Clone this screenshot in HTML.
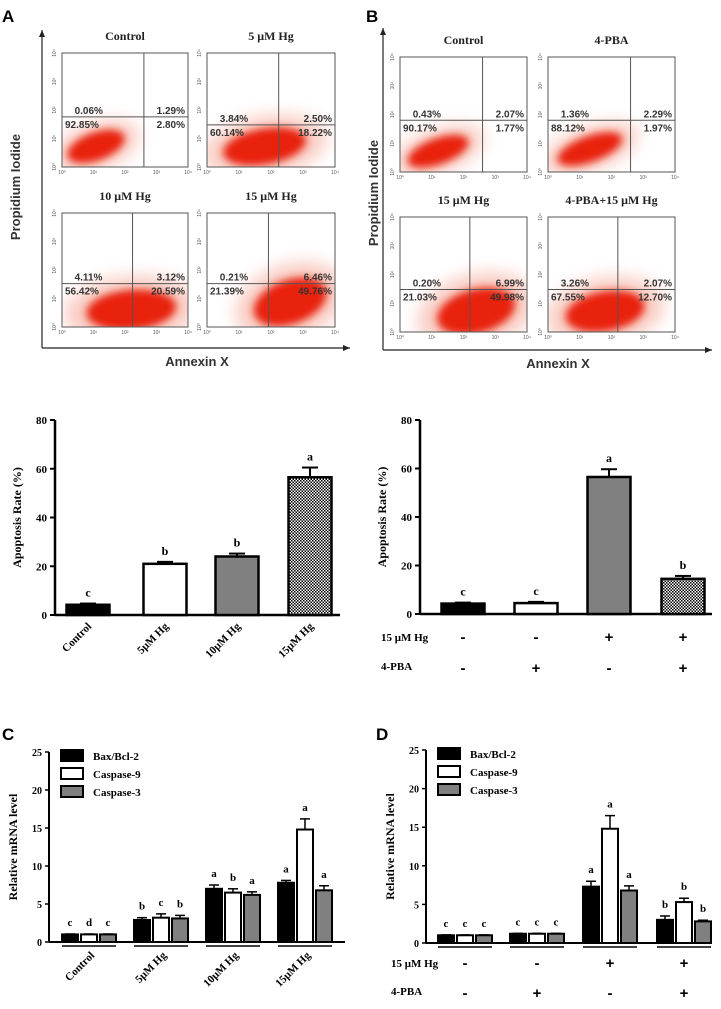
<!DOCTYPE html>
<html><head><meta charset="utf-8"><style>
body{margin:0;background:#fff}
svg{display:block}
.ser{font-family:"Liberation Serif",serif;font-weight:bold}
.san{font-family:"Liberation Sans",sans-serif}
</style></head><body>
<svg id="fig" width="721" height="1009" viewBox="0 0 721 1009" xmlns="http://www.w3.org/2000/svg">
<defs id="defs">
<pattern id="chk" width="3" height="3" patternUnits="userSpaceOnUse"><rect width="3" height="3" fill="#fff"/><rect width="1.5" height="1.5" fill="#000"/><rect x="1.5" y="1.5" width="1.5" height="1.5" fill="#000"/></pattern>
<filter id="blur" x="-50%" y="-50%" width="200%" height="200%"><feGaussianBlur stdDeviation="4"/></filter>
<filter id="blur2" x="-50%" y="-50%" width="200%" height="200%"><feGaussianBlur stdDeviation="8"/></filter>
</defs>
<g id="root"></g>
</svg>
<script>
// ---- Data ----
const flowTitlesA = ["Control","5 μM Hg","10 μM Hg","15 μM Hg"];
const flowPctA = [["0.06%","1.29%","92.85%","2.80%"],["3.84%","2.50%","60.14%","18.22%"],["4.11%","3.12%","56.42%","20.59%"],["0.21%","6.46%","21.39%","49.76%"]];
const flowTitlesB = ["Control","4-PBA","15 μM Hg","4-PBA+15 μM Hg"];
const flowPctB = [["0.43%","2.07%","90.17%","1.77%"],["1.36%","2.29%","88.12%","1.97%"],["0.20%","6.99%","21.03%","49.98%"],["3.26%","2.07%","67.55%","12.70%"]];
const rateCatsA = ["Control","5μM Hg","10μM Hg","15μM Hg"];
const rateValsA = [4.2, 21, 24, 56.5];
const rateErrA = [0.5, 0.8, 1.2, 4];
const rateLetA = ["c","b","b","a"];
const rateValsB = [4.3, 4.5, 56.5, 14.5];
const rateErrB = [0.4, 0.5, 3.2, 1.2];
const rateLetB = ["c","c","a","b"];
const hgRow = ["-","-","+","+"];
const pbaRow = ["-","+","-","+"];
const yTicksRate = [0,20,40,60,80];
const yTicksMrna = [0,5,10,15,20,25];
const seriesNames = ["Bax/Bcl-2","Caspase-9","Caspase-3"];
const mrnaCatsC = ["Control","5μM Hg","10μM Hg","15μM Hg"];
const baxC = [1, 2.9, 7.0, 7.8];
const cas9C = [1, 3.2, 6.5, 14.8];
const cas3C = [1, 3.1, 6.2, 6.8];
const baxCErr = [0.05, 0.3, 0.5, 0.3];
const cas9CErr = [0.05, 0.5, 0.5, 1.4];
const cas3CErr = [0.05, 0.4, 0.4, 0.6];
const letC = [["c","d","c"],["b","c","b"],["a","b","a"],["a","a","a"]];
const baxD = [1, 1.2, 7.3, 3.0];
const cas9D = [1, 1.2, 14.8, 5.3];
const cas3D = [1, 1.2, 6.8, 2.8];
const baxDErr = [0.05, 0.05, 0.7, 0.5];
const cas9DErr = [0.05, 0.05, 1.7, 0.5];
const cas3DErr = [0.05, 0.05, 0.6, 0.15];
const letD = [["c","c","c"],["c","c","c"],["a","a","a"],["b","b","b"]];

const NS="http://www.w3.org/2000/svg";
const root=document.getElementById('root');
const defs=document.getElementById('defs');
let clipN=0;
function mk(tag,attrs,parent,txt){const e=document.createElementNS(NS,tag);for(const k in attrs)e.setAttribute(k,attrs[k]);if(txt!==undefined)e.textContent=txt;(parent||root).appendChild(e);return e;}

// ---- Flow panels ----
function flowPanel(titles, pcts, boxes, axisX, axisTop, axisBot, axisRight, ylabX, ylabY, xlabX){
  const g=mk('g',{});
  
  
  mk('line',{x1:axisX,y1:axisTop,x2:axisX,y2:axisBot,stroke:'#222','stroke-width':1.2},g);
  mk('path',{d:`M${axisX-3},${axisTop+7} L${axisX},${axisTop} L${axisX+3},${axisTop+7}Z`,fill:'#222'},g);
  mk('line',{x1:axisX,y1:axisBot,x2:axisRight,y2:axisBot,stroke:'#222','stroke-width':1.2},g);
  mk('path',{d:`M${axisRight-7},${axisBot-3} L${axisRight},${axisBot} L${axisRight-7},${axisBot+3}Z`,fill:'#222'},g);
  let t=mk('text',{x:ylabX,y:ylabY,'text-anchor':'middle',transform:`rotate(-90 ${ylabX} ${ylabY})`,class:'san','font-size':13,'font-weight':'bold',fill:'#333'},g,'Propidium Iodide');
  
  
  t=mk('text',{x:xlabX,y:axisBot+18,'text-anchor':'middle',class:'san','font-size':13,'font-weight':'bold',fill:'#333'},g,'Annexin X');
  
  
  boxes.forEach((b,i)=>{
    const [x,y,w,h,vf,hf,bx,by,rx,ry,rot]=b;
    const pg=mk('g',{},g);
    
    
    const tt=mk('text',{x:x+w/2,y:y-13,'text-anchor':'middle',class:'ser','font-size':12,fill:'#222'},pg,titles[i]);
    
    
    const cid='clip'+(clipN++);
    const cp=mk('clipPath',{id:cid},defs);
    mk('rect',{x,y,width:w,height:h},cp);
    const dg=mk('g',{'clip-path':`url(#${cid})`},pg);
    const cx=x+bx*w, cy=y+by*h;
    mk('ellipse',{cx,cy,rx:rx*1.5,ry:ry*1.7,fill:'#f3907c',opacity:0.45,filter:'url(#blur2)',transform:`rotate(${rot} ${cx} ${cy})`},dg);
    mk('ellipse',{cx,cy,rx,ry,fill:'#e8200a',filter:'url(#blur)',transform:`rotate(${rot} ${cx} ${cy})`},dg);
    mk('rect',{x,y,width:w,height:h,fill:'none',stroke:'#555','stroke-width':1},pg);
    const vx=x+vf*w, hy=y+hf*h;
    mk('line',{x1:vx,y1:y,x2:vx,y2:y+h,stroke:'#555','stroke-width':1},pg);
    mk('line',{x1:x,y1:hy,x2:x+w,y2:hy,stroke:'#555','stroke-width':1},pg);
    const p=pcts[i];
    const ps=[[x+w*0.1,hy-3,'start',p[0]],[x+w-3,hy-3,'end',p[1]],[x+3,hy+11,'start',p[2]],[x+w-3,hy+11,'end',p[3]]];
    ps.forEach(q=>{const e=mk('text',{x:q[0],y:q[1],'text-anchor':q[2],class:'san','font-size':10,'font-weight':'bold',fill:'#333'},pg,q[3]);
      
      });
    for(let k=0;k<5;k++){
      mk('text',{x:x+k*w/4,y:y+h+7,'text-anchor':'middle',class:'san','font-size':5,fill:'#555'},pg,'10'+['⁰','¹','²','³','⁴'][k]);
      const yy=y+h-k*h/4;
      mk('text',{x:x-6,y:yy,'text-anchor':'middle',class:'san','font-size':5,fill:'#555',transform:`rotate(-90 ${x-6} ${yy})`},pg,'10'+['⁰','¹','²','³','⁴'][k]);
    }
  });
}
mk('text',{x:2,y:22,class:'san','font-size':17,'font-weight':'bold'},root,'A');
mk('text',{x:366,y:22,class:'san','font-size':17,'font-weight':'bold'},root,'B');
flowPanel(flowTitlesA,flowPctA,[
 [62,53,126,114,0.65,0.56,0.27,0.82,30,14,-20],
 [207,53,128,114,0.56,0.63,0.45,0.82,42,18,-10],
 [62,213,126,114,0.56,0.62,0.55,0.85,45,20,-5],
 [207,213,128,114,0.48,0.62,0.65,0.78,38,22,-20]
],42,30,348,350,20,187,197);
flowPanel(flowTitlesB,flowPctB,[
 [400,57,127,115,0.65,0.55,0.3,0.82,32,13,-20],
 [548,57,127,115,0.65,0.55,0.33,0.8,34,13,-20],
 [400,217,127,115,0.55,0.63,0.6,0.82,40,22,-15],
 [548,217,127,115,0.55,0.63,0.45,0.82,40,20,-10]
],383,28,350,712,378,193,558);

// ---- Apoptosis rate charts ----
function rateChart(axisX, right, zeroY, topY, cats, vals, errs, lets, centers, fills, xlabelsRotated){
  const g=mk('g',{});
  
  
  const ys=v=>zeroY-(v/80)*(zeroY-topY);
  mk('line',{x1:axisX,y1:ys(80),x2:axisX,y2:zeroY,stroke:'#000','stroke-width':2.5},g);
  mk('line',{x1:axisX,y1:zeroY,x2:right,y2:zeroY,stroke:'#000','stroke-width':2.5},g);
  yTicksRate.forEach(v=>{mk('line',{x1:axisX-5,y1:ys(v),x2:axisX,y2:ys(v),stroke:'#000','stroke-width':2},g);
    const e=mk('text',{x:axisX-8,y:ys(v)+4,'text-anchor':'end',class:'ser','font-size':11},g,v);
    
    });
  const tx=axisX-34, ty=(zeroY+topY)/2;
  const yt=mk('text',{x:tx,y:ty,'text-anchor':'middle',class:'ser','font-size':12,transform:`rotate(-90 ${tx} ${ty})`},g,'Apoptosis Rate (%)');
  
  
  vals.forEach((v,i)=>{
    const c=centers[i], w=43;
    const eb=ys(v+errs[i]);
    mk('line',{x1:c,y1:ys(v),x2:c,y2:eb,stroke:'#000','stroke-width':2},g);
    mk('line',{x1:c-8,y1:eb,x2:c+8,y2:eb,stroke:'#000','stroke-width':2},g);
    const r=mk('rect',{x:c-w/2,y:ys(v),width:w,height:zeroY-ys(v),fill:fills[i],stroke:'#000','stroke-width':2.5},g);
    
    
    const l=mk('text',{x:c,y:eb-7,'text-anchor':'middle',class:'ser','font-size':12},g,lets[i]);
    
    
    if(xlabelsRotated){
      const lx=c+4, ly=zeroY+12;
      const xl=mk('text',{x:lx,y:ly,'text-anchor':'end',class:'ser','font-size':11,transform:`rotate(-45 ${lx} ${ly})`},g,cats[i]);
      
      
    }
  });
  return g;
}
const fills=['#000','#fff','#808080','url(#chk)'];
rateChart(55,340,615,420,rateCatsA,rateValsA,rateErrA,rateLetA,[88,165,237,310],fills,true);
rateChart(420,712,614,420,null,rateValsB,rateErrB,rateLetB,[463,536,609,683],fills,false);
function signRows(labelX, centers, y1, y2){
  const a=mk('text',{x:labelX,y:y1,class:'ser','font-size':11},root,'15 μM Hg');
  
  
  const b=mk('text',{x:labelX,y:y2,class:'ser','font-size':11},root,'4-PBA');
  
  
  centers.forEach((c,i)=>{
    const s1=mk('text',{x:c,y:y1+1,'text-anchor':'middle',class:'san','font-size':15,'font-weight':'bold'},root,hgRow[i]);
    
    
    const s2=mk('text',{x:c,y:y2+3,'text-anchor':'middle',class:'san','font-size':15,'font-weight':'bold'},root,pbaRow[i]);
    
    
  });
}
signRows(381,[463,536,609,683],641,670);

// ---- mRNA charts ----
function mrnaChart(letter, lx, axisX, right, zeroY, topY, centers, series, errsArr, lets, cats){
  const g=mk('g',{});
  
  
  mk('text',{x:lx,y:740,class:'san','font-size':17,'font-weight':'bold'},g,letter);
  const ys=v=>zeroY-(v/25)*(zeroY-topY);
  mk('line',{x1:axisX,y1:topY,x2:axisX,y2:zeroY,stroke:'#000','stroke-width':2},g);
  mk('line',{x1:axisX,y1:zeroY,x2:right,y2:zeroY,stroke:'#000','stroke-width':2},g);
  yTicksMrna.forEach(v=>{mk('line',{x1:axisX-4,y1:ys(v),x2:axisX,y2:ys(v),stroke:'#000','stroke-width':1.5},g);
    const e=mk('text',{x:axisX-7,y:ys(v)+4,'text-anchor':'end',class:'ser','font-size':10},g,v);
    
    });
  const tx=axisX-32, ty=(zeroY+topY)/2;
  const yt=mk('text',{x:tx,y:ty,'text-anchor':'middle',class:'ser','font-size':12,transform:`rotate(-90 ${tx} ${ty})`},g,'Relative mRNA level');
  
  
  const sf=['#000','#fff','#808080'];
  seriesNames.forEach((n,k)=>{
    const ly=topY+k*18;
    const lr=mk('rect',{x:axisX+12,y:ly-2,width:22,height:11,fill:sf[k],stroke:'#000','stroke-width':2},g);
    
    
    const lt=mk('text',{x:axisX+44,y:ly+8,class:'ser','font-size':11},g,n);
    
    
  });
  centers.forEach((c,i)=>{
    mk('line',{x1:c-27,y1:zeroY+4,x2:c+27,y2:zeroY+4,stroke:'#000','stroke-width':1.5},g);
    series.forEach((s,k)=>{
      const bc=c+(k-1)*19, w=16, v=s[i], e=errsArr[k][i];
      const eb=ys(v+e);
      mk('line',{x1:bc,y1:ys(v),x2:bc,y2:eb,stroke:'#000','stroke-width':1.5},g);
      mk('line',{x1:bc-5,y1:eb,x2:bc+5,y2:eb,stroke:'#000','stroke-width':1.5},g);
      const r=mk('rect',{x:bc-w/2,y:ys(v),width:w,height:zeroY-ys(v),fill:sf[k],stroke:'#000','stroke-width':2},g);
      
      
      const t=mk('text',{x:bc,y:eb-8,'text-anchor':'middle',class:'ser','font-size':11},g,lets[i][k]);
      
      
    });
    if(cats){
      const lx2=c+6, ly2=zeroY+14;
      const xl=mk('text',{x:lx2,y:ly2,'text-anchor':'end',class:'ser','font-size':11,transform:`rotate(-45 ${lx2} ${ly2})`},g,cats[i]);
      
      
    }
  });
}
mrnaChart('C',2,49,345,942,752,[89,161,233,305],[baxC,cas9C,cas3C],[baxCErr,cas9CErr,cas3CErr],letC,mrnaCatsC);
mrnaChart('D',376,426,712,943,750,[465,537,610,684],[baxD,cas9D,cas3D],[baxDErr,cas9DErr,cas3DErr],letD,null);
signRows(391,[465,537,610,684],967,995);
</script>
</body></html>
